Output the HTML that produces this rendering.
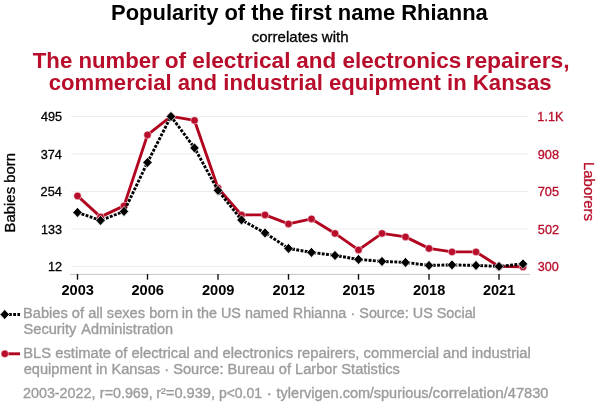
<!DOCTYPE html>
<html><head><meta charset="utf-8"><title>Spurious correlation</title><style>
html,body{margin:0;padding:0;background:#fff;}
body{width:600px;height:414px;overflow:hidden;font-family:"Liberation Sans",sans-serif;}
svg{display:block;will-change:transform;}
text{font-family:"Liberation Sans",sans-serif;}
</style></head><body>
<svg width="600" height="414" viewBox="0 0 600 414">
<rect width="600" height="414" fill="#fff"/>
<line x1="71" x2="528" y1="116.5" y2="116.5" stroke="#ededed" stroke-width="1"/>
<line x1="71" x2="528" y1="154" y2="154" stroke="#ededed" stroke-width="1"/>
<line x1="71" x2="528" y1="191.5" y2="191.5" stroke="#ededed" stroke-width="1"/>
<line x1="71" x2="528" y1="229" y2="229" stroke="#ededed" stroke-width="1"/>
<line x1="71" x2="528" y1="266.5" y2="266.5" stroke="#ededed" stroke-width="1"/>
<line x1="70" x2="530" y1="274.4" y2="274.4" stroke="#c4c4c4" stroke-width="1"/>
<line x1="77.5" x2="77.5" y1="274" y2="279.7" stroke="#111" stroke-width="1.4"/>
<line x1="147.5" x2="147.5" y1="274" y2="279.7" stroke="#111" stroke-width="1.4"/>
<line x1="218" x2="218" y1="274" y2="279.7" stroke="#111" stroke-width="1.4"/>
<line x1="288.5" x2="288.5" y1="274" y2="279.7" stroke="#111" stroke-width="1.4"/>
<line x1="358.5" x2="358.5" y1="274" y2="279.7" stroke="#111" stroke-width="1.4"/>
<line x1="429" x2="429" y1="274" y2="279.7" stroke="#111" stroke-width="1.4"/>
<line x1="499" x2="499" y1="274" y2="279.7" stroke="#111" stroke-width="1.4"/>
<text x="111.08" y="19.6" font-size="21.6" font-weight="bold" fill="#000" textLength="376.73" lengthAdjust="spacingAndGlyphs">Popularity of the first name Rhianna</text>
<text x="251.77" y="41.8" font-size="14.4" fill="#000" textLength="96.77" lengthAdjust="spacingAndGlyphs" stroke="#000" stroke-width="0.3">correlates with</text>
<text x="32.79" y="67.6" font-size="21.4" font-weight="bold" fill="#b80d2b" textLength="126.94" lengthAdjust="spacingAndGlyphs">The number</text>
<text x="164.65" y="67.6" font-size="21.4" font-weight="bold" fill="#b80d2b" textLength="125.88" lengthAdjust="spacingAndGlyphs">of electrical</text>
<text x="296.37" y="67.6" font-size="21.4" font-weight="bold" fill="#b80d2b" textLength="164.77" lengthAdjust="spacingAndGlyphs">and electronics</text>
<text x="465.50" y="67.6" font-size="21.4" font-weight="bold" fill="#b80d2b" textLength="104.18" lengthAdjust="spacingAndGlyphs">repairers,</text>
<text x="48.67" y="89.5" font-size="21.4" font-weight="bold" fill="#b80d2b" textLength="502.91" lengthAdjust="spacingAndGlyphs">commercial and industrial equipment in Kansas</text>
<text x="23.05" y="318.3" font-size="14" fill="#9c9c9c" textLength="155.38" lengthAdjust="spacingAndGlyphs" stroke="#9c9c9c" stroke-width="0.35">Babies of all sexes born</text>
<text x="181.88" y="318.3" font-size="14" fill="#9c9c9c" textLength="164.36" lengthAdjust="spacingAndGlyphs" stroke="#9c9c9c" stroke-width="0.35">in the US named Rhianna</text>
<text x="350.56" y="318.3" font-size="14" fill="#9c9c9c" textLength="125.27" lengthAdjust="spacingAndGlyphs" stroke="#9c9c9c" stroke-width="0.35">· Source: US Social</text>
<text x="23.57" y="334.3" font-size="14" fill="#9c9c9c" textLength="52.73" lengthAdjust="spacingAndGlyphs" stroke="#9c9c9c" stroke-width="0.35">Security</text>
<text x="81.30" y="334.3" font-size="14" fill="#9c9c9c" textLength="91.87" lengthAdjust="spacingAndGlyphs" stroke="#9c9c9c" stroke-width="0.35">Administration</text>
<text x="23.24" y="358.2" font-size="14" fill="#9c9c9c" textLength="507.62" lengthAdjust="spacingAndGlyphs" stroke="#9c9c9c" stroke-width="0.35">BLS estimate of electrical and electronics repairers, commercial and industrial</text>
<text x="23.68" y="374.4" font-size="14" fill="#9c9c9c" textLength="376.14" lengthAdjust="spacingAndGlyphs" stroke="#9c9c9c" stroke-width="0.35">equipment in Kansas · Source: Bureau of Larbor Statistics</text>
<text x="23.03" y="398.0" font-size="14" fill="#9c9c9c" textLength="72.38" lengthAdjust="spacingAndGlyphs" stroke="#9c9c9c" stroke-width="0.35">2003-2022,</text>
<text x="99.88" y="398.0" font-size="14" fill="#9c9c9c" textLength="52.83" lengthAdjust="spacingAndGlyphs" stroke="#9c9c9c" stroke-width="0.35">r=0.969,</text>
<text x="156.26" y="398.0" font-size="14" fill="#9c9c9c" textLength="58.72" lengthAdjust="spacingAndGlyphs" stroke="#9c9c9c" stroke-width="0.35">r²=0.939,</text>
<text x="218.90" y="398.0" font-size="14" fill="#9c9c9c" textLength="43.19" lengthAdjust="spacingAndGlyphs" stroke="#9c9c9c" stroke-width="0.35">p&lt;0.01</text>
<text x="266.34" y="398.0" font-size="14" fill="#9c9c9c" textLength="5.99" lengthAdjust="spacingAndGlyphs" stroke="#9c9c9c" stroke-width="0.35">·</text>
<text x="276.59" y="398.0" font-size="14" fill="#9c9c9c" textLength="93.50" lengthAdjust="spacingAndGlyphs" stroke="#9c9c9c" stroke-width="0.35">tylervigen.com</text>
<text x="369.80" y="398.0" font-size="14" fill="#9c9c9c" textLength="58.72" lengthAdjust="spacingAndGlyphs" stroke="#9c9c9c" stroke-width="0.35">/spurious</text>
<text x="428.40" y="398.0" font-size="14" fill="#9c9c9c" textLength="75.26" lengthAdjust="spacingAndGlyphs" stroke="#9c9c9c" stroke-width="0.35">/correlation</text>
<text x="503.80" y="398.0" font-size="14" fill="#9c9c9c" textLength="44.71" lengthAdjust="spacingAndGlyphs" stroke="#9c9c9c" stroke-width="0.35">/47830</text>
<text x="40.99" y="121.0" font-size="12.2" fill="#000" textLength="21.01" lengthAdjust="spacingAndGlyphs" stroke="#000" stroke-width="0.3">495</text>
<text x="40.79" y="158.5" font-size="12.2" fill="#000" textLength="21.01" lengthAdjust="spacingAndGlyphs" stroke="#000" stroke-width="0.3">374</text>
<text x="40.57" y="196.0" font-size="12.2" fill="#000" textLength="21.22" lengthAdjust="spacingAndGlyphs" stroke="#000" stroke-width="0.3">254</text>
<text x="40.97" y="233.5" font-size="12.2" fill="#000" textLength="21.03" lengthAdjust="spacingAndGlyphs" stroke="#000" stroke-width="0.3">133</text>
<text x="47.96" y="271.0" font-size="12.2" fill="#000" textLength="14.15" lengthAdjust="spacingAndGlyphs" stroke="#000" stroke-width="0.3">12</text>
<text x="537.37" y="121.1" font-size="12.2" fill="#b80d2b" textLength="25.97" lengthAdjust="spacingAndGlyphs" stroke="#b80d2b" stroke-width="0.3">1.1K</text>
<text x="537.78" y="158.6" font-size="12.2" fill="#b80d2b" textLength="21.23" lengthAdjust="spacingAndGlyphs" stroke="#b80d2b" stroke-width="0.3">908</text>
<text x="537.67" y="196.1" font-size="12.2" fill="#b80d2b" textLength="21.34" lengthAdjust="spacingAndGlyphs" stroke="#b80d2b" stroke-width="0.3">705</text>
<text x="537.88" y="233.6" font-size="12.2" fill="#b80d2b" textLength="21.23" lengthAdjust="spacingAndGlyphs" stroke="#b80d2b" stroke-width="0.3">502</text>
<text x="537.89" y="271.1" font-size="12.2" fill="#b80d2b" textLength="21.01" lengthAdjust="spacingAndGlyphs" stroke="#b80d2b" stroke-width="0.3">300</text>
<text x="61.41" y="295.1" font-size="14.8" font-weight="bold" fill="#000" textLength="32.52" lengthAdjust="spacingAndGlyphs">2003</text>
<text x="131.41" y="295.1" font-size="14.8" font-weight="bold" fill="#000" textLength="32.52" lengthAdjust="spacingAndGlyphs">2006</text>
<text x="201.91" y="295.1" font-size="14.8" font-weight="bold" fill="#000" textLength="32.52" lengthAdjust="spacingAndGlyphs">2009</text>
<text x="272.41" y="295.1" font-size="14.8" font-weight="bold" fill="#000" textLength="32.52" lengthAdjust="spacingAndGlyphs">2012</text>
<text x="342.41" y="295.1" font-size="14.8" font-weight="bold" fill="#000" textLength="32.32" lengthAdjust="spacingAndGlyphs">2015</text>
<text x="412.91" y="295.1" font-size="14.8" font-weight="bold" fill="#000" textLength="32.42" lengthAdjust="spacingAndGlyphs">2018</text>
<text x="482.91" y="295.1" font-size="14.8" font-weight="bold" fill="#000" textLength="32.32" lengthAdjust="spacingAndGlyphs">2021</text>
<text transform="translate(15.2,232.49) rotate(-90)" font-size="15" fill="#000" stroke="#000" stroke-width="0.3" textLength="79.63" lengthAdjust="spacingAndGlyphs">Babies born</text>
<text transform="translate(584.0,161.90) rotate(90)" font-size="15" fill="#b80d2b" stroke="#b80d2b" stroke-width="0.3" textLength="59.10" lengthAdjust="spacingAndGlyphs">Laborers</text>
<polyline points="77.5,195.9 100.5,216.9 124,205.9 147.5,134.9 171,116.4 194.5,120.4 218,187.9 241.5,214.9 265,214.9 288.5,223.9 311.5,218.9 335,233.4 358.5,249.9 382,233.4 405.5,236.9 429,248.4 452,251.9 476,251.9 499,266.4 523,266.9" fill="none" stroke="#b1051f" stroke-width="2.9" stroke-linejoin="round"/>
<circle cx="77.5" cy="195.9" r="3.75" fill="#b80d2b" stroke="#fff" stroke-width="0.5"/>
<circle cx="100.5" cy="216.9" r="3.75" fill="#b80d2b" stroke="#fff" stroke-width="0.5"/>
<circle cx="124" cy="205.9" r="3.75" fill="#b80d2b" stroke="#fff" stroke-width="0.5"/>
<circle cx="147.5" cy="134.9" r="3.75" fill="#b80d2b" stroke="#fff" stroke-width="0.5"/>
<circle cx="171" cy="116.4" r="3.75" fill="#b80d2b" stroke="#fff" stroke-width="0.5"/>
<circle cx="194.5" cy="120.4" r="3.75" fill="#b80d2b" stroke="#fff" stroke-width="0.5"/>
<circle cx="218" cy="187.9" r="3.75" fill="#b80d2b" stroke="#fff" stroke-width="0.5"/>
<circle cx="241.5" cy="214.9" r="3.75" fill="#b80d2b" stroke="#fff" stroke-width="0.5"/>
<circle cx="265" cy="214.9" r="3.75" fill="#b80d2b" stroke="#fff" stroke-width="0.5"/>
<circle cx="288.5" cy="223.9" r="3.75" fill="#b80d2b" stroke="#fff" stroke-width="0.5"/>
<circle cx="311.5" cy="218.9" r="3.75" fill="#b80d2b" stroke="#fff" stroke-width="0.5"/>
<circle cx="335" cy="233.4" r="3.75" fill="#b80d2b" stroke="#fff" stroke-width="0.5"/>
<circle cx="358.5" cy="249.9" r="3.75" fill="#b80d2b" stroke="#fff" stroke-width="0.5"/>
<circle cx="382" cy="233.4" r="3.75" fill="#b80d2b" stroke="#fff" stroke-width="0.5"/>
<circle cx="405.5" cy="236.9" r="3.75" fill="#b80d2b" stroke="#fff" stroke-width="0.5"/>
<circle cx="429" cy="248.4" r="3.75" fill="#b80d2b" stroke="#fff" stroke-width="0.5"/>
<circle cx="452" cy="251.9" r="3.75" fill="#b80d2b" stroke="#fff" stroke-width="0.5"/>
<circle cx="476" cy="251.9" r="3.75" fill="#b80d2b" stroke="#fff" stroke-width="0.5"/>
<circle cx="499" cy="266.4" r="3.75" fill="#b80d2b" stroke="#fff" stroke-width="0.5"/>
<circle cx="523" cy="266.9" r="3.75" fill="#b80d2b" stroke="#fff" stroke-width="0.5"/>
<polyline points="77.5,212.4 100.5,220.4 124,211.4 147.5,162.4 171,116.4 194.5,147.9 218,190.4 241.5,219.9 265,232.9 288.5,248.4 311.5,252.4 335,255.4 358.5,259.4 382,261.4 405.5,262.4 429,265.4 452,264.9 476,265.4 499,266.4 523,263.9" fill="none" stroke="#000" stroke-width="2.9" stroke-dasharray="2.9,1.4" stroke-linejoin="round"/>
<path d="M72.8,212.4 L77.5,207.4 L82.2,212.4 L77.5,217.4Z" fill="#000" stroke="#fff" stroke-width="0.7"/>
<path d="M95.8,220.4 L100.5,215.4 L105.2,220.4 L100.5,225.4Z" fill="#000" stroke="#fff" stroke-width="0.7"/>
<path d="M119.3,211.4 L124,206.4 L128.7,211.4 L124,216.4Z" fill="#000" stroke="#fff" stroke-width="0.7"/>
<path d="M142.8,162.4 L147.5,157.4 L152.2,162.4 L147.5,167.4Z" fill="#000" stroke="#fff" stroke-width="0.7"/>
<path d="M166.3,116.4 L171,111.4 L175.7,116.4 L171,121.4Z" fill="#000" stroke="#fff" stroke-width="0.7"/>
<path d="M189.8,147.9 L194.5,142.9 L199.2,147.9 L194.5,152.9Z" fill="#000" stroke="#fff" stroke-width="0.7"/>
<path d="M213.3,190.4 L218,185.4 L222.7,190.4 L218,195.4Z" fill="#000" stroke="#fff" stroke-width="0.7"/>
<path d="M236.8,219.9 L241.5,214.9 L246.2,219.9 L241.5,224.9Z" fill="#000" stroke="#fff" stroke-width="0.7"/>
<path d="M260.3,232.9 L265,227.9 L269.7,232.9 L265,237.9Z" fill="#000" stroke="#fff" stroke-width="0.7"/>
<path d="M283.8,248.4 L288.5,243.4 L293.2,248.4 L288.5,253.4Z" fill="#000" stroke="#fff" stroke-width="0.7"/>
<path d="M306.8,252.4 L311.5,247.4 L316.2,252.4 L311.5,257.4Z" fill="#000" stroke="#fff" stroke-width="0.7"/>
<path d="M330.3,255.4 L335,250.4 L339.7,255.4 L335,260.4Z" fill="#000" stroke="#fff" stroke-width="0.7"/>
<path d="M353.8,259.4 L358.5,254.39999999999998 L363.2,259.4 L358.5,264.4Z" fill="#000" stroke="#fff" stroke-width="0.7"/>
<path d="M377.3,261.4 L382,256.4 L386.7,261.4 L382,266.4Z" fill="#000" stroke="#fff" stroke-width="0.7"/>
<path d="M400.8,262.4 L405.5,257.4 L410.2,262.4 L405.5,267.4Z" fill="#000" stroke="#fff" stroke-width="0.7"/>
<path d="M424.3,265.4 L429,260.4 L433.7,265.4 L429,270.4Z" fill="#000" stroke="#fff" stroke-width="0.7"/>
<path d="M447.3,264.9 L452,259.9 L456.7,264.9 L452,269.9Z" fill="#000" stroke="#fff" stroke-width="0.7"/>
<path d="M471.3,265.4 L476,260.4 L480.7,265.4 L476,270.4Z" fill="#000" stroke="#fff" stroke-width="0.7"/>
<path d="M494.3,266.4 L499,261.4 L503.7,266.4 L499,271.4Z" fill="#000" stroke="#fff" stroke-width="0.7"/>
<path d="M518.3,263.9 L523,258.9 L527.7,263.9 L523,268.9Z" fill="#000" stroke="#fff" stroke-width="0.7"/>
<line x1="9" x2="20" y1="314.5" y2="314.5" stroke="#000" stroke-width="2.8" stroke-dasharray="2.8,1.4"/>
<path d="M0,314.5 L4.7,309.5 L9.4,314.5 L4.7,319.5Z" fill="#000" stroke="#fff" stroke-width="0.7"/>
<line x1="5" x2="20" y1="353.8" y2="353.8" stroke="#b1051f" stroke-width="2.9"/>
<circle cx="4.8" cy="353.8" r="3.75" fill="#b80d2b" stroke="#fff" stroke-width="0.5"/>
</svg></body></html>
